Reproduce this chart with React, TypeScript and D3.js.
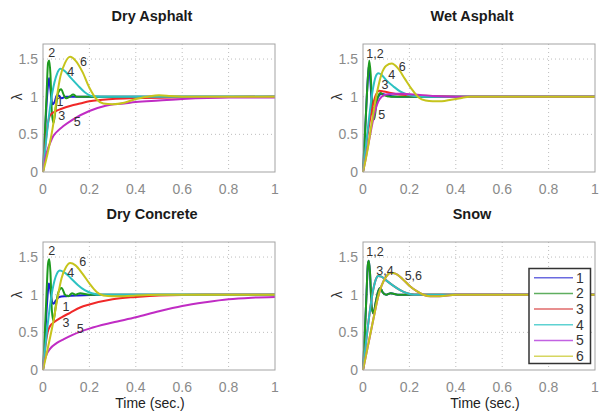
import React, { useRef, useEffect } from 'react';
import * as d3 from 'd3';

type Pt = [number, number];
type Note = [string, number, number];

const seriesNames = ['1', '2', '3', '4', '5', '6'];
const seriesColors = ['#1c1cd8', '#1e9b1e', '#f02828', '#2cc2c2', '#c02cc4', '#c6c41c'];
const legendColors = ['#6a6ae0', '#5fae5f', '#e06a6a', '#5ed2d2', '#c262e2', '#d6d660'];
const xTicks = [0, 0.2, 0.4, 0.6, 0.8, 1];
const yTicks = [0, 0.5, 1, 1.5];
const tickLabels = ['0', '0.2', '0.4', '0.6', '0.8', '1'];
const yTickLabels = ['0', '0.5', '1', '1.5'];
const panelTitles = ['Dry Asphalt', 'Wet Asphalt', 'Dry Concrete', 'Snow'];

// λ(t), series 1..6
const dryAsphalt: Pt[][] = [
  [[0, 0], [0.01, 0.6], [0.02, 1.1], [0.026, 1.25], [0.032, 1.1], [0.04, 0.9], [0.05, 0.93], [0.06, 1.02], [0.07, 1.01], [0.08, 0.98], [0.1, 1.0], [1, 1]],
  [[0, 0], [0.008, 0.5], [0.015, 1.0], [0.022, 1.45], [0.027, 1.48], [0.032, 1.3], [0.038, 0.8], [0.045, 0.65], [0.055, 0.85], [0.065, 1.05], [0.078, 1.1], [0.09, 1.02], [0.1, 0.98], [0.115, 1.0], [0.13, 1.03], [0.145, 1.0], [0.2, 1.0], [1, 1]],
  [[0, 0], [0.01, 0.35], [0.02, 0.62], [0.03, 0.75], [0.05, 0.8], [0.08, 0.84], [0.12, 0.88], [0.16, 0.91], [0.2, 0.94], [0.3, 0.97], [0.4, 0.98], [0.6, 0.99], [1, 1]],
  [[0, 0], [0.02, 0.6], [0.04, 1.05], [0.06, 1.3], [0.075, 1.37], [0.09, 1.35], [0.12, 1.25], [0.15, 1.15], [0.18, 1.06], [0.21, 1.01], [0.25, 1.0], [1, 1]],
  [[0, 0], [0.005, 0.1], [0.016, 0.26], [0.03, 0.38], [0.045, 0.48], [0.065, 0.55], [0.088, 0.61], [0.13, 0.7], [0.2, 0.81], [0.27, 0.88], [0.35, 0.91], [0.4, 0.93], [0.5, 0.95], [0.6, 0.97], [0.8, 0.99], [1, 0.99]],
  [[0, 0], [0.02, 0.25], [0.045, 0.65], [0.06, 1.0], [0.075, 1.27], [0.095, 1.45], [0.117, 1.53], [0.14, 1.48], [0.17, 1.33], [0.2, 1.12], [0.23, 0.97], [0.26, 0.91], [0.3, 0.9], [0.35, 0.92], [0.4, 0.97], [0.45, 1.0], [0.5, 1.02], [0.55, 1.01], [0.6, 1.0], [1, 1]],
];

const wetAsphalt: Pt[][] = [
  [[0, 0], [0.01, 0.6], [0.02, 1.2], [0.026, 1.42], [0.032, 1.2], [0.04, 0.85], [0.05, 0.85], [0.065, 1.0], [0.08, 1.04], [0.1, 1.02], [0.15, 1.0], [1, 1]],
  [[0, 0], [0.01, 0.6], [0.02, 1.2], [0.027, 1.48], [0.033, 1.3], [0.04, 0.85], [0.048, 0.7], [0.06, 0.95], [0.075, 1.05], [0.09, 1.02], [0.12, 1.0], [1, 1]],
  [[0, 0], [0.02, 0.5], [0.04, 0.85], [0.055, 1.02], [0.07, 1.08], [0.09, 1.07], [0.12, 1.05], [0.16, 1.03], [0.2, 1.02], [0.3, 1.01], [0.45, 1.0], [1, 1]],
  [[0, 0], [0.02, 0.55], [0.04, 1.05], [0.055, 1.27], [0.066, 1.31], [0.08, 1.29], [0.1, 1.22], [0.13, 1.14], [0.16, 1.07], [0.19, 1.03], [0.22, 1.01], [0.26, 1.0], [1, 1]],
  [[0, 0], [0.01, 0.15], [0.02, 0.32], [0.03, 0.48], [0.04, 0.64], [0.052, 0.81], [0.065, 0.93], [0.08, 1.0], [0.1, 1.03], [0.13, 1.04], [0.17, 1.04], [0.22, 1.03], [0.3, 1.01], [0.4, 1.0], [1, 1]],
  [[0, 0], [0.02, 0.3], [0.04, 0.7], [0.06, 1.05], [0.08, 1.3], [0.1, 1.41], [0.124, 1.44], [0.15, 1.38], [0.18, 1.24], [0.21, 1.1], [0.24, 0.99], [0.27, 0.95], [0.3, 0.94], [0.34, 0.94], [0.38, 0.96], [0.42, 0.98], [0.46, 1.0], [1, 1]],
];

const dryConcrete: Pt[][] = [
  [[0, 0], [0.01, 0.5], [0.02, 1.0], [0.025, 1.15], [0.03, 1.1], [0.038, 0.92], [0.045, 0.88], [0.055, 0.92], [0.07, 0.97], [0.1, 0.98], [0.15, 0.99], [0.25, 1.0], [1, 1]],
  [[0, 0], [0.008, 0.5], [0.015, 1.0], [0.022, 1.42], [0.027, 1.47], [0.032, 1.3], [0.038, 0.8], [0.045, 0.65], [0.055, 0.85], [0.065, 1.02], [0.08, 1.09], [0.095, 1.0], [0.11, 0.98], [0.125, 1.02], [0.14, 1.0], [0.16, 1.02], [0.2, 1.0], [1, 1]],
  [[0, 0], [0.01, 0.3], [0.02, 0.5], [0.03, 0.58], [0.05, 0.64], [0.08, 0.7], [0.117, 0.76], [0.16, 0.83], [0.2, 0.87], [0.3, 0.94], [0.4, 0.97], [0.5, 0.99], [0.7, 1.0], [1, 1]],
  [[0, 0], [0.02, 0.6], [0.04, 1.05], [0.06, 1.28], [0.073, 1.32], [0.09, 1.3], [0.12, 1.22], [0.15, 1.13], [0.18, 1.06], [0.21, 1.02], [0.25, 1.0], [1, 1]],
  [[0, 0], [0.005, 0.1], [0.015, 0.2], [0.03, 0.28], [0.06, 0.36], [0.09, 0.41], [0.13, 0.47], [0.2, 0.55], [0.3, 0.63], [0.4, 0.7], [0.5, 0.78], [0.6, 0.85], [0.7, 0.9], [0.8, 0.94], [0.9, 0.96], [1, 0.97]],
  [[0, 0], [0.02, 0.28], [0.045, 0.65], [0.065, 1.0], [0.08, 1.22], [0.1, 1.37], [0.117, 1.42], [0.14, 1.39], [0.17, 1.28], [0.2, 1.15], [0.23, 1.04], [0.26, 0.99], [0.3, 0.98], [0.35, 0.98], [0.4, 0.99], [0.5, 1.0], [1, 1]],
];

const snow: Pt[][] = [
  [[0, 0], [0.008, 0.5], [0.015, 1.0], [0.021, 1.4], [0.025, 1.45], [0.03, 1.3], [0.037, 0.85], [0.045, 0.75], [0.055, 0.9], [0.065, 1.04], [0.075, 1.09], [0.085, 1.03], [0.1, 1.0], [0.12, 1.02], [0.15, 1.0], [1, 1]],
  [[0, 0], [0.008, 0.5], [0.015, 1.0], [0.021, 1.4], [0.025, 1.45], [0.03, 1.3], [0.037, 0.85], [0.045, 0.75], [0.055, 0.9], [0.065, 1.04], [0.075, 1.09], [0.085, 1.03], [0.1, 1.0], [0.12, 1.02], [0.15, 1.0], [1, 1]],
  [[0, 0], [0.02, 0.55], [0.04, 1.0], [0.055, 1.2], [0.065, 1.25], [0.08, 1.24], [0.1, 1.19], [0.13, 1.12], [0.16, 1.06], [0.19, 1.02], [0.22, 1.0], [1, 1]],
  [[0, 0], [0.02, 0.55], [0.04, 1.0], [0.055, 1.2], [0.065, 1.25], [0.08, 1.24], [0.1, 1.19], [0.13, 1.12], [0.16, 1.06], [0.19, 1.02], [0.22, 1.0], [1, 1]],
  [[0, 0], [0.02, 0.3], [0.045, 0.68], [0.065, 0.97], [0.08, 1.12], [0.1, 1.24], [0.12, 1.29], [0.14, 1.28], [0.17, 1.21], [0.2, 1.12], [0.23, 1.05], [0.26, 1.0], [0.29, 0.98], [0.33, 0.98], [0.4, 1.0], [1, 1]],
  [[0, 0], [0.02, 0.3], [0.045, 0.68], [0.065, 0.97], [0.08, 1.12], [0.1, 1.24], [0.12, 1.29], [0.14, 1.28], [0.17, 1.21], [0.2, 1.12], [0.23, 1.05], [0.26, 1.0], [0.29, 0.98], [0.33, 0.98], [0.4, 1.0], [1, 1]],
];

// curve number annotations: [text, t, λ]
const dryAsphaltNotes: Note[] = [['2', 0.038, 1.585], ['6', 0.174, 1.466], ['4', 0.12, 1.327], ['1', 0.073, 0.935], ['3', 0.081, 0.75], ['5', 0.148, 0.666]];
const wetAsphaltNotes: Note[] = [['1,2', 0.052, 1.577], ['6', 0.169, 1.4], ['4', 0.124, 1.29], ['3', 0.095, 1.16], ['5', 0.081, 0.764]];
const dryConcreteNotes: Note[] = [['2', 0.038, 1.584], ['6', 0.171, 1.436], ['4', 0.12, 1.294], ['1', 0.099, 0.847], ['3', 0.099, 0.633], ['5', 0.16, 0.545]];
const snowNotes: Note[] = [['1,2', 0.052, 1.57], ['3,4', 0.095, 1.325], ['5,6', 0.217, 1.249]];

const panelData = [dryAsphalt, wetAsphalt, dryConcrete, snow];
const panelNotes = [dryAsphaltNotes, wetAsphaltNotes, dryConcreteNotes, snowNotes];

const font = '"Liberation Sans", Arial, sans-serif';

const App = () => {
  const svgRef = useRef<SVGSVGElement>(null);

  useEffect(() => {
    const svg = d3.select(svgRef.current);
    svg.selectAll('*').remove();

    const W = 232;
    const H = 128;
    const origins = [[43, 44], [363, 44], [43, 242], [363, 242]];

    const xScale = d3.scaleLinear().domain([0, 1]).range([0, W]);
    const yScale = d3.scaleLinear().domain([0, 1.7]).range([H, 0]);
    const line = d3.line<Pt>()
      .x(d => xScale(d[0]))
      .y(d => yScale(d[1]))
      .curve(d3.curveMonotoneX);

    panelData.forEach((series, p) => {
      const [ox, oy] = origins[p];
      const g = svg.append('g').attr('transform', `translate(${ox},${oy})`);

      // dotted grid
      g.selectAll('.gx')
        .data(xTicks.slice(1, -1))
        .enter().append('line')
        .attr('x1', d => xScale(d)).attr('x2', d => xScale(d))
        .attr('y1', 0).attr('y2', H)
        .attr('stroke', '#bdbdbd').attr('stroke-width', 1)
        .attr('stroke-dasharray', '1,3');
      g.selectAll('.gy')
        .data(yTicks.slice(1))
        .enter().append('line')
        .attr('x1', 0).attr('x2', W)
        .attr('y1', d => yScale(d)).attr('y2', d => yScale(d))
        .attr('stroke', '#bdbdbd').attr('stroke-width', 1)
        .attr('stroke-dasharray', '1,3');

      // curves
      series.forEach((s, i) => {
        g.append('path')
          .datum(s)
          .attr('d', line)
          .attr('fill', 'none')
          .attr('stroke', seriesColors[i])
          .attr('stroke-width', 2)
          .attr('stroke-linejoin', 'round');
      });

      // box
      g.append('rect')
        .attr('x', 0).attr('y', 0).attr('width', W).attr('height', H)
        .attr('fill', 'none').attr('stroke', '#a3a3a3').attr('stroke-width', 1);

      // tick labels
      g.selectAll('.xt')
        .data(xTicks)
        .enter().append('text')
        .attr('x', d => xScale(d))
        .attr('y', H + 17)
        .attr('dy', '0.35em')
        .attr('text-anchor', 'middle')
        .style('font-family', font).style('font-size', '14px').style('fill', '#8a8a8a')
        .text((d, i) => tickLabels[i]);
      g.selectAll('.yt')
        .data(yTicks)
        .enter().append('text')
        .attr('x', -5)
        .attr('y', d => yScale(d))
        .attr('dy', '0.35em')
        .attr('text-anchor', 'end')
        .style('font-family', font).style('font-size', '14px').style('fill', '#8a8a8a')
        .text((d, i) => yTickLabels[i]);

      // curve numbers
      g.selectAll('.note')
        .data(panelNotes[p])
        .enter().append('text')
        .attr('x', d => xScale(d[1]))
        .attr('y', d => yScale(d[2]))
        .attr('dy', '0.35em')
        .attr('text-anchor', 'middle')
        .style('font-family', font).style('font-size', '12.5px').style('fill', '#333')
        .text(d => d[0]);

      // title
      g.append('text')
        .attr('x', 109).attr('y', -23)
        .attr('text-anchor', 'middle')
        .style('font-family', font).style('font-size', '14.5px').style('font-weight', 'bold')
        .style('fill', '#1a1a1a')
        .text(panelTitles[p]);

      // y label
      g.append('text')
        .attr('transform', `translate(-26,${yScale(1)}) rotate(-90)`)
        .attr('dy', '0.35em')
        .attr('text-anchor', 'middle')
        .style('font-family', font).style('font-size', '14px').style('fill', '#333')
        .text('λ');

      if (p >= 2) {
        g.append('text')
          .attr('x', p === 2 ? 107 : 122).attr('y', H + 38)
          .attr('text-anchor', 'middle')
          .style('font-family', font).style('font-size', '14px').style('fill', '#222')
          .text('Time (sec.)');
      }

      if (p === 3) {
        const lg = g.append('g').attr('transform', 'translate(166,26.5)');
        lg.append('rect')
          .attr('width', 61.5).attr('height', 95)
          .attr('fill', '#fff').attr('stroke', '#333').attr('stroke-width', 1.5);
        seriesNames.forEach((name, i) => {
          const y = 9.2 + i * 15.7;
          lg.append('line')
            .attr('x1', 5).attr('x2', 44).attr('y1', y).attr('y2', y)
            .attr('stroke', legendColors[i]).attr('stroke-width', 1.5);
          lg.append('text')
            .attr('x', 51).attr('y', y).attr('dy', '0.35em')
            .attr('text-anchor', 'middle')
            .style('font-family', font).style('font-size', '14px').style('fill', '#333')
            .text(name);
        });
      }
    });
  }, []);

  return (
    <svg
      ref={svgRef}
      width={605}
      height={418}
      style={{ position: 'absolute', left: 0, top: 0, background: '#fff' }}
    />
  );
};

export default App;
